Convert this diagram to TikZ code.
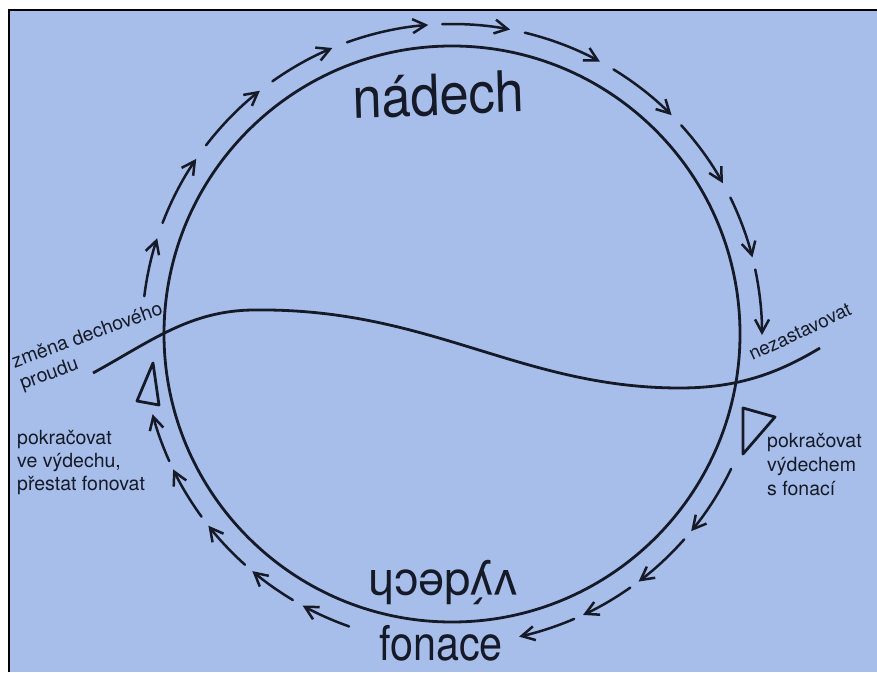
\documentclass[tikz,border=0pt]{standalone}
\usepackage{fontspec}
\setmainfont{TeX Gyre Heros}
\usetikzlibrary{arrows.meta,calc}
\definecolor{cInk}{RGB}{22,26,40}
\definecolor{cPaper}{RGB}{166,190,233}

\begin{document}
\begin{tikzpicture}[
  x=1pt, y=1pt,
  ring/.style={draw=cInk, line width=2.8pt, line join=round},
  flow/.style={draw=cInk, line width=2.5pt, line cap=round,
               -{Straight Barb[length=13pt, width=14pt]}},
  word/.style={text=cInk, inner sep=0pt, anchor=base},
  note/.style={text=cInk, inner sep=0pt, align=left,
               font=\fontsize{19.5}{23}\selectfont},
]

% ---------- page ----------
\useasboundingbox (0,0) rectangle (877,672);
\fill[white] (0,0) rectangle (877,672);
\fill[cPaper] (9,0) rectangle (877,662);
\draw[black, line width=2.5pt] (9,0) -- (9,662) -- (877,662);

% ---------- breath cycle ----------
\coordinate (c) at (452,338);
\draw[ring] (c) circle[radius=288];

% airflow line
\coordinate (flowL) at (93,299);
\coordinate (flowR) at (820,324);
\draw[ring] (flowL) .. controls (150,330) and (190,362) .. (255,362)
  .. controls (430,364) and (520,284) .. (680,284)
  .. controls (740,284) and (780,300) .. (flowR);

% arrows round the circle (clockwise)
\foreach \a/\b in {173/162, 159/145.6, 142.5/128.3, 125.4/112.7,
                   109.8/94.4, 91.8/79.2, 76.4/61.5, 58.6/44.9,
                   42.3/29.1, 26.1/14.3, 12/-0.2,
                   -25.8/-39.5, -41.5/-53, -54.9/-65, -66.8/-77.5,
                   -109.4/-118.8, -120.9/-130.1, -131.9/-141.8,
                   -143.9/-154.1, -155.8/-165}
  \draw[flow] ($(c)+(\a:310)$) arc[start angle=\a, end angle=\b, radius=310];

% switch marks
\draw[ring] (153,309) -- (137,271) -- (159,267) -- cycle;
\draw[ring] (743,264) -- (775,255) -- (743,218) -- cycle;

% ---------- words ----------
\node[word, font=\fontsize{57}{57}\selectfont, xscale=0.92, rotate=2] (inhale) at (439,557) {nádech};
\node[word, font=\fontsize{47}{47}\selectfont, rotate=180] (exhale) at (443,102) {výdech};
\node[word, font=\fontsize{48}{48}\selectfont, xscale=0.86] (phon) at (441,12) {fonace};

% ---------- labels ----------
\node[note, rotate=20] (change) at (91.4,324.8) {změna dechového\\proudu};
\node[note, font=\fontsize{19}{19}\selectfont, rotate=25] (keep) at (800,340) {nezastavovat};
\node[note, anchor=north west] (goonL) at (17,242.4)
  {pokračovat\\ve výdechu,\\přestat fonovat};
\node[note, anchor=north west, font=\fontsize{19.5}{24}\selectfont] (goonR) at (767,239.4)
  {pokračovat\\výdechem\\s fonací};

\end{tikzpicture}
\end{document}
